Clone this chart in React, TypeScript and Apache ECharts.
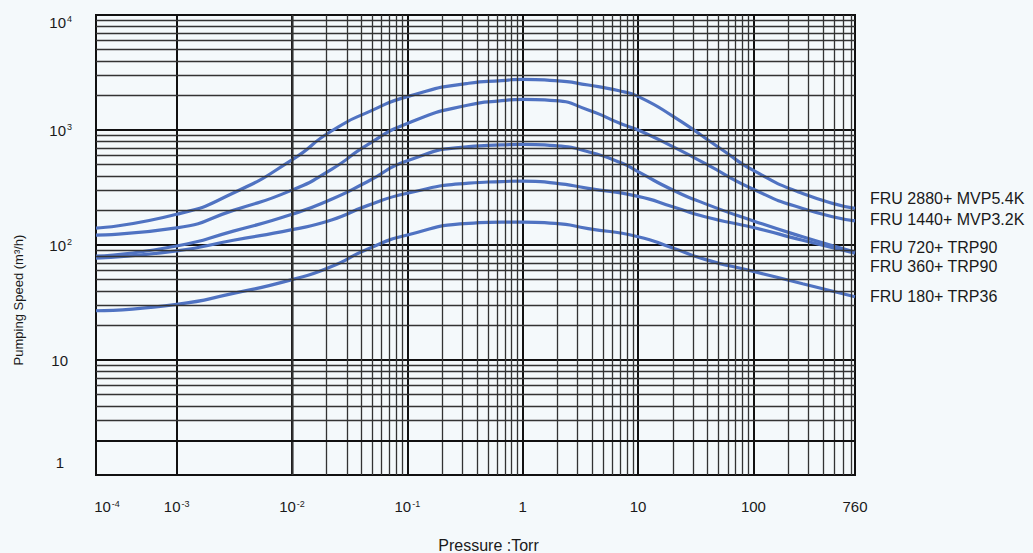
import React, { useEffect, useRef } from 'react';
import * as echarts from 'echarts';

// ---- data ----
const seriesNames = [
  'FRU 2880+ MVP5.4K',
  'FRU 1440+ MVP3.2K',
  'FRU 720+ TRP90',
  'FRU 360+ TRP90',
  'FRU 180+ TRP36',
];

const fru2880: [number, number][] = [
  [2e-4, 140], [1e-3, 185], [3.1e-3, 283], [1e-2, 550], [2.2e-2, 980], [5e-2, 1490],
  [0.1, 1950], [0.34, 2550], [0.66, 2690], [1, 2760], [1.9, 2690], [3.7, 2460],
  [7.3, 2160], [10, 1960], [20, 1320], [54, 670], [100, 445], [267, 281], [760, 208],
];
const fru1440: [number, number][] = [
  [2e-4, 122], [1e-3, 141], [3.1e-3, 200], [1e-2, 300], [2.2e-2, 455], [4.5e-2, 741],
  [0.1, 1140], [0.34, 1649], [0.66, 1798], [1, 1850], [1.9, 1798], [3.7, 1493],
  [7.3, 1120], [10, 1000], [20, 716], [38, 513], [100, 305], [267, 208], [760, 162],
];
const fru720: [number, number][] = [
  [2e-4, 80], [1e-3, 98], [3.1e-3, 132], [1e-2, 185], [2.2e-2, 250], [4.5e-2, 355],
  [0.1, 540], [0.34, 716], [0.66, 741], [1, 751], [1.9, 730], [3.7, 647],
  [7.3, 513], [10, 434], [20, 301], [38, 229], [100, 162], [267, 118], [760, 87],
];
const fru360: [number, number][] = [
  [2e-4, 77], [1e-3, 89], [3.1e-3, 110], [1e-2, 136], [2.2e-2, 165], [4.5e-2, 220],
  [0.1, 282], [0.34, 345], [0.66, 356], [1, 360], [1.9, 345], [3.7, 311],
  [10, 265], [20, 215], [38, 176], [100, 142], [267, 110], [760, 85],
];
const fru180: [number, number][] = [
  [2e-4, 26.8], [1e-3, 30.5], [3.1e-3, 38], [1e-2, 50], [2.2e-2, 65], [4.5e-2, 92],
  [0.1, 122], [0.34, 154], [0.66, 158], [1, 158], [1.9, 154], [3.7, 139],
  [10, 118], [20, 94], [38, 75], [100, 59], [267, 46], [760, 35.5],
];

// axis ranges / ticks
const xMin = 2e-4;
const xMax = 760;
const yMin = 1;
const yMax = 10000;
const minorMultipliers = [2, 3, 4, 5, 6, 7, 8, 9];
const xDecades = [-4, -3, -2, -1, 0, 1, 2];
const yDecades = [0, 1, 2, 3];
const yHeavyExtra = [2];

const xAxisName = 'Pressure :Torr';
const yAxisName = 'Pumping Speed (m³/h)';

// ---- styling ----
const FONT = "'Liberation Sans', Arial, sans-serif";
const BLUE = '#5073c2';
const INK = '#1a1a1a';
const BG = '#f4f9fb';

const minorX: number[] = [];
xDecades.forEach((k) =>
  minorMultipliers.forEach((m) => {
    const v = Number((m * Math.pow(10, k)).toPrecision(6));
    if (v > xMin * 1.0001 && v < xMax * 0.9999) minorX.push(v);
  })
);
const minorY: number[] = [];
yDecades.forEach((k) =>
  minorMultipliers.forEach((m) => {
    const v = Number((m * Math.pow(10, k)).toPrecision(6));
    if (yHeavyExtra.indexOf(v) >= 0) return;
    if (v > yMin && v < yMax) minorY.push(v);
  })
);

const rich = {
  b: { fontSize: 15, fontFamily: FONT, color: INK },
  bm: { fontSize: 15, fontFamily: FONT, color: INK, padding: [0, 0, 0, 22] },
  s: { fontSize: 9, fontFamily: FONT, color: INK, verticalAlign: 'top', padding: [0, 0, 0, 1] },
  b10: { fontSize: 15, fontFamily: FONT, color: INK, padding: [0, 4, 0, 0] },
  one: { fontSize: 15, fontFamily: FONT, color: INK, padding: [0, 8, 26, 0] },
  top: { fontSize: 15, fontFamily: FONT, color: INK, padding: [14, 0, 0, 0] },
  stop: { fontSize: 9, fontFamily: FONT, color: INK, verticalAlign: 'top', padding: [14, 0, 0, 1] },
};

const xFmt = (value: number) => {
  if (value < 5e-4) return '{bm|10}{s|-4}';
  if (Math.abs(value - 760) < 1) return '{b|760}';
  const e = Math.round(Math.log10(value));
  if (e === 0) return '{b|1}';
  if (e === 1) return '{b|10}';
  if (e === 2) return '{b|100}';
  return '{b|10}{s|' + e + '}';
};

const yFmt = (value: number) => {
  const e = Math.round(Math.log10(value));
  if (e === 0) return '{one|1}';
  if (e === 1) return '{b10|10}';
  if (e === 4) return '{top|10}{stop|4}';
  return '{b|10}{s|' + e + '}';
};

const curves = [
  { name: seriesNames[0], data: fru2880, dy: -10 },
  { name: seriesNames[1], data: fru1440, dy: -1 },
  { name: seriesNames[2], data: fru720, dy: -4 },
  { name: seriesNames[3], data: fru360, dy: 13 },
  { name: seriesNames[4], data: fru180, dy: 0 },
];

const option: any = {
  animation: false,
  backgroundColor: BG,
  grid: {
    left: 96,
    top: 15,
    right: 178,
    bottom: 78,
    containLabel: false,
    outerBoundsMode: 'none',
    show: true,
    borderColor: '#111',
    borderWidth: 2,
    backgroundColor: 'transparent',
  },
  xAxis: {
    type: 'log',
    logBase: 10,
    min: xMin,
    max: xMax,
    axisLine: { show: false },
    axisTick: { show: false },
    splitLine: { show: true, lineStyle: { color: '#111', width: 2 } },
    axisLabel: {
      margin: 24,
      showMinLabel: true,
      showMaxLabel: true,
      formatter: xFmt,
      rich,
    },
    name: xAxisName,
    nameLocation: 'middle',
    nameGap: 62,
    nameTextStyle: { fontSize: 16, color: INK, fontFamily: FONT, padding: [0, 0, 0, 26] },
  },
  yAxis: {
    type: 'log',
    logBase: 10,
    min: yMin,
    max: yMax,
    axisLine: { show: false },
    axisTick: { show: false },
    splitLine: { show: true, lineStyle: { color: '#111', width: 2 } },
    axisLabel: {
      margin: 24,
      showMinLabel: true,
      showMaxLabel: true,
      formatter: yFmt,
      rich,
    },
  },
  graphic: [
    {
      type: 'text',
      x: 18,
      y: 300,
      rotation: Math.PI / 2,
      style: {
        text: yAxisName,
        fontSize: 13,
        fontFamily: FONT,
        fill: INK,
        align: 'center',
        verticalAlign: 'middle',
      },
    },
  ],
  series: [
    {
      type: 'line',
      name: 'grid',
      data: [],
      silent: true,
      z: 1,
      symbol: 'none',
      markLine: {
        silent: true,
        symbol: ['none', 'none'],
        label: { show: false },
        emphasis: { disabled: true },
        lineStyle: { color: '#333', width: 1.3, type: 'solid' },
        data: [
          ...minorX.map((v) => ({ xAxis: v })),
          ...minorY.map((v) => ({ yAxis: v })),
          ...yHeavyExtra.map((v) => ({ yAxis: v, lineStyle: { color: '#111', width: 2, type: 'solid' } })),
        ],
      },
    },
    ...curves.map((c) => ({
      type: 'line',
      name: c.name,
      data: c.data,
      smooth: 0.6,
      symbol: 'none',
      z: 3,
      lineStyle: { color: BLUE, width: 3.2 },
      itemStyle: { color: BLUE },
      emphasis: { disabled: true },
      endLabel: {
        show: true,
        formatter: '{a}',
        distance: 15,
        offset: [0, c.dy],
        fontSize: 16,
        fontFamily: FONT,
        color: INK,
      },
    })),
  ],
};

export default function App() {
  const ref = useRef<HTMLDivElement>(null);
  useEffect(() => {
    if (!ref.current) return;
    const chart = echarts.init(ref.current, null, { renderer: 'svg' });
    chart.setOption(option);
    return () => chart.dispose();
  }, []);
  return (
    <div
      ref={ref}
      style={{ position: 'fixed', left: 0, top: 0, width: 1033, height: 553, background: BG }}
    />
  );
}
